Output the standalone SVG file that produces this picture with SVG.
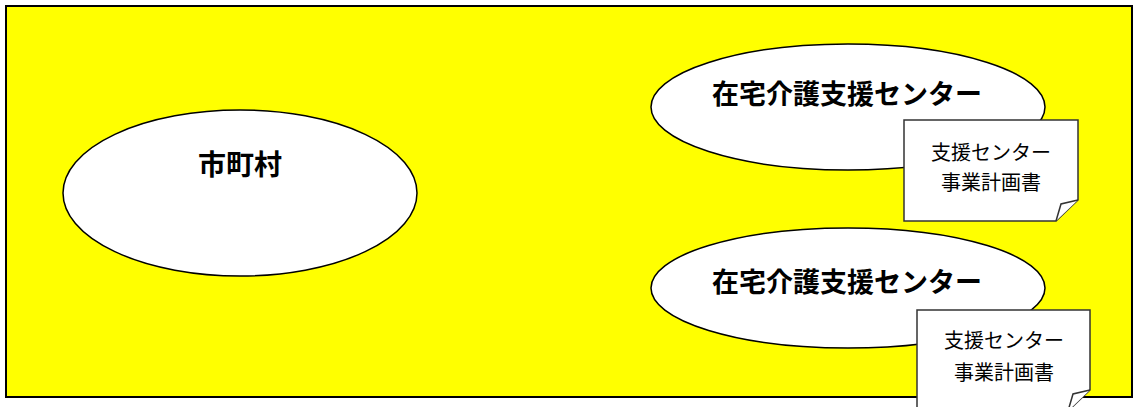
<svg xmlns="http://www.w3.org/2000/svg" width="1137" height="407" viewBox="0 0 1137 407">
<style>
.bg{fill:#ffff00;stroke:#000;stroke-width:2}
.ell{fill:#fff;stroke:#000;stroke-width:1.5}
.note{fill:#fff;stroke:#333;stroke-width:1.5}
.t{font-family:"Noto Sans CJK JP","Noto Sans CJK SC",sans-serif;fill:#000;text-anchor:middle}
.title{font-size:27px;font-weight:bold}
.big{font-size:28px;font-weight:bold}
.small{font-size:20px}
</style>
<rect class="bg" x="6" y="6" width="1126" height="391"/>
<g id="connectors"></g>
<g id="city">
<ellipse class="ell" cx="240" cy="193" rx="177" ry="83"/>
<text class="t big" x="240" y="175">市町村</text>
</g>
<g id="center1">
<ellipse class="ell" cx="848" cy="107" rx="197" ry="63"/>
<text class="t title" x="847" y="104">在宅介護支援センター</text>
</g>
<g id="plan1">
<path class="note" d="M904,120 H1078 V200 L1056,221 H904 Z"/>
<path class="note" d="M1056,221 L1061,204 L1078,200"/>
<text class="t small" x="991" y="160">支援センター</text>
<text class="t small" x="991" y="190">事業計画書</text>
</g>
<g id="center2">
<ellipse class="ell" cx="848" cy="288" rx="197" ry="60"/>
<text class="t title" x="847" y="292">在宅介護支援センター</text>
</g>
<g id="plan2">
<path class="note" d="M917,310 H1090 V390 L1068,411 H917 Z"/>
<path class="note" d="M1068,411 L1073,394 L1090,390"/>
<text class="t small" x="1004" y="348">支援センター</text>
<text class="t small" x="1004" y="380">事業計画書</text>
</g>
</svg>
